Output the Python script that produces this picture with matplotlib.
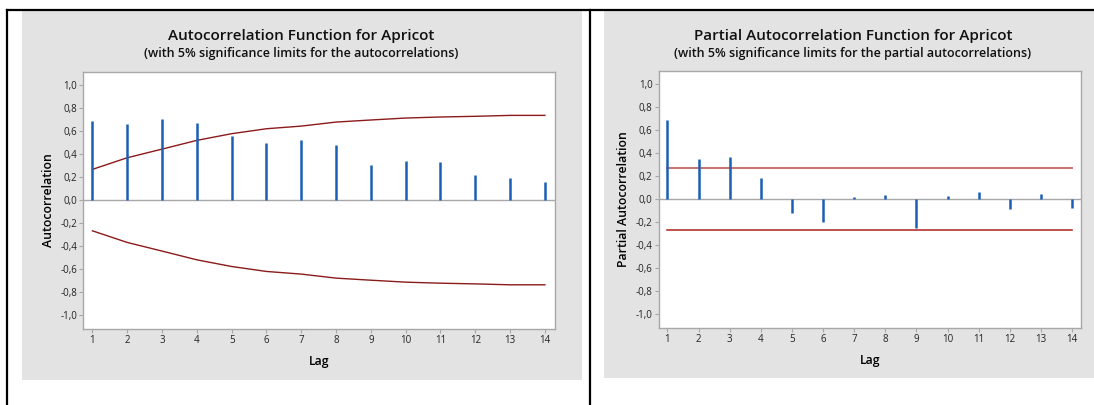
import matplotlib
matplotlib.use("Agg")
import matplotlib.pyplot as plt
from matplotlib.patches import Rectangle
from matplotlib.lines import Line2D
from matplotlib.ticker import FuncFormatter

plt.rcParams['font.family'] = ['Open Sans', 'DejaVu Sans']

# data
lags = list(range(1, 15))
acf = [0.684, 0.661, 0.701, 0.670, 0.559, 0.499, 0.525, 0.475, 0.304, 0.339, 0.330, 0.214, 0.188, 0.154]
acf_limit = [0.267, 0.368, 0.443, 0.519, 0.577, 0.620, 0.643, 0.678, 0.696, 0.713, 0.722, 0.728, 0.736, 0.736]
pacf = [0.689, 0.352, 0.363, 0.186, -0.119, -0.195, 0.017, 0.032, -0.247, 0.026, 0.061, -0.087, 0.044, -0.078]
pacf_limit = 0.268
yticks = [-1.0, -0.8, -0.6, -0.4, -0.2, 0.0, 0.2, 0.4, 0.6, 0.8, 1.0]

W, H = 1094, 405
fig = plt.figure(figsize=(W / 100, H / 100), dpi=100)
fig.patch.set_facecolor('white')


def px_rect(l, t, r, b):
    return [l / W, 1 - b / H, (r - l) / W, (b - t) / H]


def fx(x):
    return x / W


def fy(y):
    return 1 - y / H


# gray panels
fig.patches.append(Rectangle((fx(22), fy(380)), fx(582) - fx(22), fy(10) - fy(380),
                             transform=fig.transFigure, facecolor='#e3e3e3', edgecolor='none', zorder=-5))
fig.patches.append(Rectangle((fx(604), fy(378)), fx(1094) - fx(604), fy(10) - fy(378),
                             transform=fig.transFigure, facecolor='#e3e3e3', edgecolor='none', zorder=-5))

# black table borders
for line in [Line2D([fx(7), fx(1094)], [fy(10), fy(10)]),
             Line2D([fx(7), fx(7)], [fy(10), fy(405)]),
             Line2D([fx(590), fx(590)], [fy(10), fy(405)])]:
    line.set_transform(fig.transFigure)
    line.set_color('black')
    line.set_linewidth(1.6)
    fig.lines.append(line)

comma = FuncFormatter(lambda v, p: ('%.1f' % v).replace('.', ','))


def style(ax):
    ax.set_facecolor('white')
    for s in ax.spines.values():
        s.set_color('#a8a8a8')
        s.set_linewidth(1.0)
    ax.tick_params(axis='both', colors='#a8a8a8', labelcolor='#222222', labelsize=7,
                   length=3, width=0.8, pad=1.5)
    ax.set_yticks(yticks)
    ax.yaxis.set_major_formatter(comma)
    ax.set_xticks(lags)
    ax.axhline(0, color='#a8a8a8', lw=1.0, zorder=1)


# ACF
ax1 = fig.add_axes(px_rect(83.4, 72, 555, 329))
style(ax1)
ax1.vlines(lags, 0, acf, color='#1a5fb4', lw=1.8, zorder=3)
ax1.plot(lags, acf_limit, color='#8b1a1a', lw=1.0, zorder=2)
ax1.plot(lags, [-v for v in acf_limit], color='#8b1a1a', lw=1.0, zorder=2)
ax1.set_xlim(0.74, 14.29)
ax1.set_ylim(-1.12, 1.113)
ax1.set_ylabel('Autocorrelation', fontsize=8.8, labelpad=4, fontweight='semibold')
ax1.set_xlabel('Lag', fontsize=8.8, labelpad=6, fontweight='semibold')
fig.text(fx(301), fy(36), 'Autocorrelation Function for Apricot', ha='center', va='center',
         fontsize=11, fontweight='semibold', color='#111111')
fig.text(fx(301), fy(53), '(with 5% significance limits for the autocorrelations)', ha='center',
         va='center', fontsize=9, fontweight='semibold', color='#111111')

# PACF
ax2 = fig.add_axes(px_rect(658.7, 71, 1080.7, 328))
style(ax2)
ax2.vlines(lags, 0, pacf, color='#1a5fb4', lw=1.8, zorder=3)
ax2.plot([1, 14], [pacf_limit, pacf_limit], color='#c87474', lw=1.5, zorder=2)
ax2.plot([1, 14], [-pacf_limit, -pacf_limit], color='#b0201e', lw=1.1, zorder=2)
ax2.set_xlim(0.72, 14.28)
ax2.set_ylim(-1.12, 1.113)
ax2.set_ylabel('Partial Autocorrelation', fontsize=8.8, labelpad=4, fontweight='semibold')
ax2.set_xlabel('Lag', fontsize=8.8, labelpad=6, fontweight='semibold')
fig.text(fx(853), fy(36), 'Partial Autocorrelation Function for Apricot', ha='center', va='center',
         fontsize=11, fontweight='semibold', color='#111111')
fig.text(fx(853), fy(53), '(with 5% significance limits for the partial autocorrelations)', ha='center',
         va='center', fontsize=9, fontweight='semibold', color='#111111')

fig.savefig('out.png', dpi=100)
